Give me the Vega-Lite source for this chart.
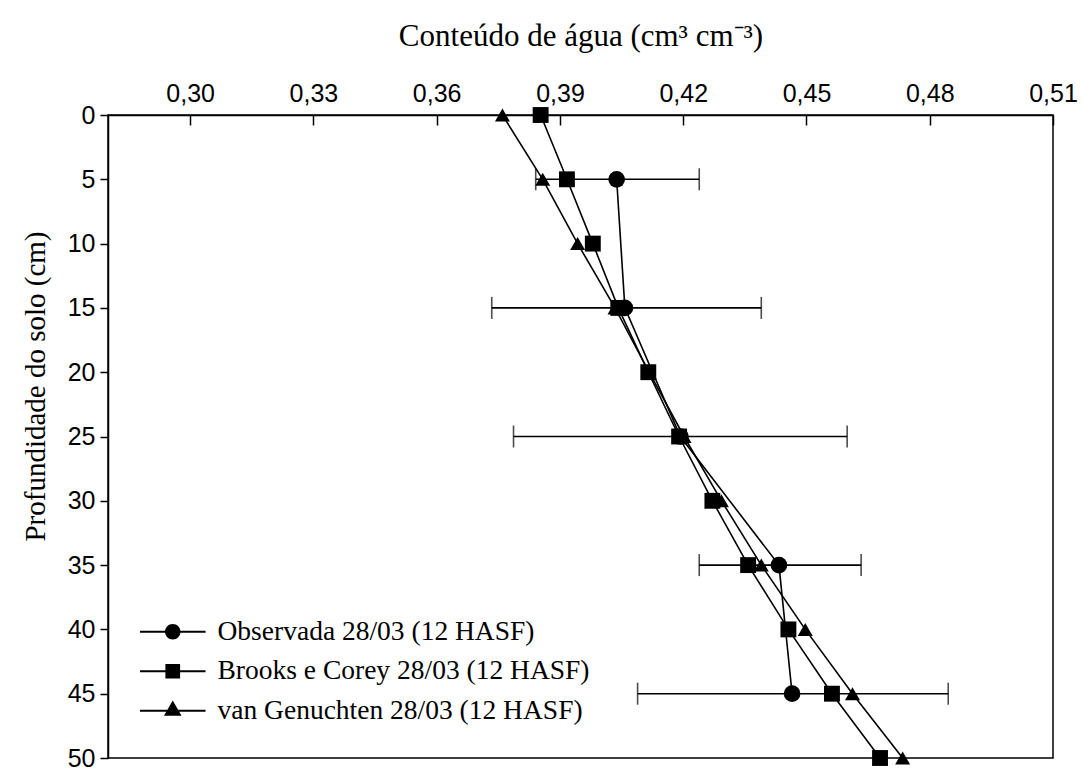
{
  "$schema": "https://vega.github.io/schema/vega-lite/v6.json",
  "width": 945,
  "height": 643,
  "autosize": "none",
  "padding": {"left": 108, "top": 115, "right": 30, "bottom": 13},
  "background": "white",
  "config": {
    "view": {"stroke": "black", "strokeWidth": 1.5},
    "axis": {"domainColor": "black", "domainWidth": 1.5, "tickColor": "black", "tickWidth": 1.5, "grid": false,
      "labelFont": "Liberation Sans", "labelFontSize": 25, "labelColor": "black",
      "titleFont": "Liberation Serif", "titleFontSize": 29, "titleFontWeight": "normal", "titleColor": "black"}
  },
  "data": {"values": [
    {"series": "Observada 28/03 (12 HASF)", "depth": 5, "theta": 0.4038, "lo": 0.3841, "hi": 0.4239},
    {"series": "Observada 28/03 (12 HASF)", "depth": 15, "theta": 0.4058, "lo": 0.3734, "hi": 0.4390},
    {"series": "Observada 28/03 (12 HASF)", "depth": 25, "theta": 0.4193, "lo": 0.3787, "hi": 0.4599},
    {"series": "Observada 28/03 (12 HASF)", "depth": 35, "theta": 0.4433, "lo": 0.4239, "hi": 0.4633},
    {"series": "Observada 28/03 (12 HASF)", "depth": 45, "theta": 0.4465, "lo": 0.4089, "hi": 0.4845},
    {"series": "Brooks e Corey 28/03 (12 HASF)", "depth": 0, "theta": 0.3853},
    {"series": "Brooks e Corey 28/03 (12 HASF)", "depth": 5, "theta": 0.3917},
    {"series": "Brooks e Corey 28/03 (12 HASF)", "depth": 10, "theta": 0.3980},
    {"series": "Brooks e Corey 28/03 (12 HASF)", "depth": 15, "theta": 0.4042},
    {"series": "Brooks e Corey 28/03 (12 HASF)", "depth": 20, "theta": 0.4115},
    {"series": "Brooks e Corey 28/03 (12 HASF)", "depth": 25, "theta": 0.4190},
    {"series": "Brooks e Corey 28/03 (12 HASF)", "depth": 30, "theta": 0.4271},
    {"series": "Brooks e Corey 28/03 (12 HASF)", "depth": 35, "theta": 0.4358},
    {"series": "Brooks e Corey 28/03 (12 HASF)", "depth": 40, "theta": 0.4456},
    {"series": "Brooks e Corey 28/03 (12 HASF)", "depth": 45, "theta": 0.4562},
    {"series": "Brooks e Corey 28/03 (12 HASF)", "depth": 50, "theta": 0.4679},
    {"series": "van Genuchten 28/03 (12 HASF)", "depth": 0, "theta": 0.3760},
    {"series": "van Genuchten 28/03 (12 HASF)", "depth": 5, "theta": 0.3858},
    {"series": "van Genuchten 28/03 (12 HASF)", "depth": 10, "theta": 0.3943},
    {"series": "van Genuchten 28/03 (12 HASF)", "depth": 15, "theta": 0.4034},
    {"series": "van Genuchten 28/03 (12 HASF)", "depth": 20, "theta": 0.4117},
    {"series": "van Genuchten 28/03 (12 HASF)", "depth": 25, "theta": 0.4202},
    {"series": "van Genuchten 28/03 (12 HASF)", "depth": 30, "theta": 0.4293},
    {"series": "van Genuchten 28/03 (12 HASF)", "depth": 35, "theta": 0.4390},
    {"series": "van Genuchten 28/03 (12 HASF)", "depth": 40, "theta": 0.4497},
    {"series": "van Genuchten 28/03 (12 HASF)", "depth": 45, "theta": 0.4612},
    {"series": "van Genuchten 28/03 (12 HASF)", "depth": 50, "theta": 0.4734}
  ]},
  "layer": [
    {
      "mark": {"type": "line", "color": "black", "strokeWidth": 1.6},
      "encoding": {
        "x": {"field": "theta", "type": "quantitative",
          "scale": {"domain": [0.28, 0.51], "nice": false, "zero": false},
          "axis": {"orient": "top", "values": [0.30, 0.33, 0.36, 0.39, 0.42, 0.45, 0.48, 0.51],
            "labelExpr": "replace(format(datum.value, '.2f'), '.', ',')",
            "tickSize": -10, "labelPadding": 19, "labelFlush": false,
            "title": "Conteúdo de água (cm³ cm⁻³)", "titleFontSize": 31, "titleY": -79, "titleBaseline": "middle"}},
        "y": {"field": "depth", "type": "quantitative",
          "scale": {"domain": [0, 50], "reverse": true, "nice": false, "zero": false},
          "axis": {"values": [0, 5, 10, 15, 20, 25, 30, 35, 40, 45, 50], "tickSize": 8, "labelPadding": 5,
            "labelFlush": false,
            "title": "Profundidade do solo (cm)", "titleX": -73, "titleY": 271, "titleBaseline": "middle", "titleAngle": -90}},
        "detail": {"field": "series", "type": "nominal"},
        "order": {"field": "depth", "type": "quantitative"}
      }
    },
    {
      "transform": [{"filter": "isValid(datum.lo)"}],
      "mark": {"type": "rule", "color": "black", "strokeWidth": 1.6},
      "encoding": {
        "x": {"field": "lo", "type": "quantitative", "title": "Conteúdo de água (cm³ cm⁻³)"},
        "x2": {"field": "hi"},
        "y": {"field": "depth", "type": "quantitative", "title": "Profundidade do solo (cm)"}
      }
    },
    {
      "transform": [{"filter": "isValid(datum.lo)"}],
      "mark": {"type": "tick", "orient": "vertical", "color": "black", "thickness": 1.6, "size": 22},
      "encoding": {
        "x": {"field": "lo", "type": "quantitative", "title": "Conteúdo de água (cm³ cm⁻³)"},
        "y": {"field": "depth", "type": "quantitative", "title": "Profundidade do solo (cm)"}
      }
    },
    {
      "transform": [{"filter": "isValid(datum.lo)"}],
      "mark": {"type": "tick", "orient": "vertical", "color": "black", "thickness": 1.6, "size": 22},
      "encoding": {
        "x": {"field": "hi", "type": "quantitative", "title": "Conteúdo de água (cm³ cm⁻³)"},
        "y": {"field": "depth", "type": "quantitative", "title": "Profundidade do solo (cm)"}
      }
    },
    {
      "mark": {"type": "point", "filled": true, "color": "black", "opacity": 1},
      "encoding": {
        "x": {"field": "theta", "type": "quantitative", "title": "Conteúdo de água (cm³ cm⁻³)"},
        "y": {"field": "depth", "type": "quantitative", "title": "Profundidade do solo (cm)"},
        "shape": {"field": "series", "type": "nominal", "legend": null,
          "scale": {"domain": ["Observada 28/03 (12 HASF)", "Brooks e Corey 28/03 (12 HASF)", "van Genuchten 28/03 (12 HASF)"],
            "range": ["circle", "square", "triangle-up"]}},
        "size": {"field": "series", "type": "nominal", "legend": null,
          "scale": {"domain": ["Observada 28/03 (12 HASF)", "Brooks e Corey 28/03 (12 HASF)", "van Genuchten 28/03 (12 HASF)"],
            "range": [280, 225, 380]}}
      }
    },
    {
      "mark": {"type": "point", "filled": true, "color": "black", "opacity": 0},
      "encoding": {
        "x": {"field": "theta", "type": "quantitative", "title": "Conteúdo de água (cm³ cm⁻³)"},
        "y": {"field": "depth", "type": "quantitative", "title": "Profundidade do solo (cm)"},
        "shape": {"field": "series", "type": "nominal",
          "scale": {"domain": ["Observada 28/03 (12 HASF)", "Brooks e Corey 28/03 (12 HASF)", "van Genuchten 28/03 (12 HASF)"],
            "range": [
              "M-4.1,-0.12H-0.9V0.12H-4.1Z M0.9,-0.12H4.1V0.12H0.9Z M0.97,0A0.97,0.97 0 1,1 -0.97,0A0.97,0.97 0 1,1 0.97,0Z",
              "M-4.1,-0.12H-0.9V0.12H-4.1Z M0.9,-0.12H4.1V0.12H0.9Z M-0.92,-0.92H0.92V0.92H-0.92Z",
              "M-4.1,-0.12H-0.7V0.12H-4.1Z M0.7,-0.12H4.1V0.12H0.7Z M0,-1.28L1.1,0.64H-1.1Z"
            ]},
          "legend": {"title": null, "orient": "none", "legendX": 51, "legendY": 503, "padding": 0,
            "symbolSize": 256, "symbolOpacity": 1, "symbolFillColor": "black", "symbolStrokeColor": "black",
            "symbolStrokeWidth": 0, "labelFont": "Liberation Serif", "labelFontSize": 27.5, "labelColor": "black",
            "labelOffset": 31, "rowPadding": 10.5, "labelLimit": 700}}
      }
    }
  ],
  "resolve": {"scale": {"shape": "independent"}}
}
